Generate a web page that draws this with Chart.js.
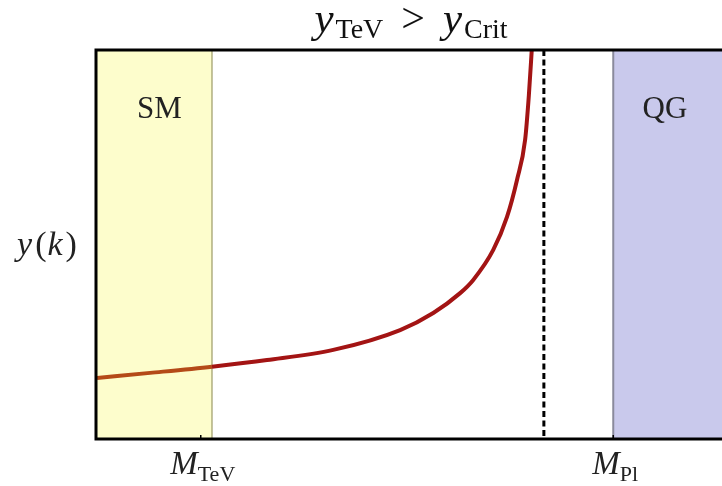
<!DOCTYPE html>
<html>
<head>
<meta charset="utf-8">
<script src="https://cdn.jsdelivr.net/npm/chart.js@4"></script>
<style>
  html, body { margin: 0; padding: 0; background: #ffffff; }
  #wrap { width: 722px; height: 486px; position: relative; }
</style>
</head>
<body>
<div id="wrap"><canvas id="c" width="722" height="486"></canvas></div>
<script>
// Running coupling y(k) against scale k (arbitrary linear units 0..100)
const curveK = [0, 8.5, 18.4, 27.2, 37.8, 48.5, 53.8, 58.1, 60.2, 63.4, 65.6, 67.2, 68.5, 69.1, 69.6];
const curveY = [15.7, 17.0, 18.6, 20.3, 22.9, 28.0, 32.4, 37.5, 40.9, 48.6, 57.1, 66.6, 76.9, 88.4, 101];

// Regions and markers along k
const smRegion = [0, 18.4];      // Standard Model regime
const qgRegion = [82.6, 100];    // quantum gravity regime
const poleK = [71.5];            // where y(k) diverges
const tickK = [16.6, 82.6];
const tickLabels = [['M', 'TeV'], ['M', 'Pl']];
const regionLabels = ['SM', 'QG'];

const SERIF = '"Liberation Serif", "DejaVu Serif", serif';

// lays out a run of pieces {t, size, italic, dy, gap} centred on cx
function mathRun(ctx, pieces, cx, y) {
  const font = p => (p.italic ? 'italic ' : '') + p.size + 'px ' + SERIF;
  let total = 0;
  pieces.forEach(p => { ctx.font = font(p); p.w = ctx.measureText(p.t).width; total += p.w + (p.gap || 0); });
  let x = cx - total / 2;
  pieces.forEach(p => {
    ctx.font = font(p);
    ctx.fillText(p.t, x, y + (p.dy || 0));
    x += p.w + (p.gap || 0);
  });
}

const decor = {
  id: 'decor',
  beforeDatasetsDraw(chart) {
    const { ctx, chartArea: a, scales: { x } } = chart;
    ctx.save();
    // shaded regimes
    const s0 = x.getPixelForValue(smRegion[0]), s1 = x.getPixelForValue(smRegion[1]);
    ctx.fillStyle = '#fdfdcc';
    ctx.fillRect(s0, a.top, s1 - s0, a.bottom - a.top);
    const q0 = x.getPixelForValue(qgRegion[0]), q1 = x.getPixelForValue(qgRegion[1]);
    ctx.fillStyle = '#c9c9ec';
    ctx.fillRect(q0, a.top, q1 - q0 + 2, a.bottom - a.top);
    ctx.strokeStyle = '#9c9a66';
    ctx.lineWidth = 1.2;
    ctx.beginPath(); ctx.moveTo(s1, a.top); ctx.lineTo(s1, a.bottom); ctx.stroke();
    ctx.strokeStyle = '#8a8a9c';
    ctx.lineWidth = 2;
    ctx.beginPath(); ctx.moveTo(q0, a.top); ctx.lineTo(q0, a.bottom); ctx.stroke();
    // pole
    const p = x.getPixelForValue(poleK[0]);
    ctx.strokeStyle = '#000';
    ctx.lineWidth = 3;
    ctx.setLineDash([6, 3.5]);
    ctx.beginPath(); ctx.moveTo(p, a.top); ctx.lineTo(p, a.bottom); ctx.stroke();
    ctx.restore();
  },
  afterDatasetsDraw(chart) {
    const { ctx, chartArea: a, scales: { x } } = chart;
    ctx.save();
    // frame
    ctx.strokeStyle = '#000';
    ctx.lineWidth = 3;
    ctx.beginPath();
    ctx.moveTo(a.right + 2, a.top);
    ctx.lineTo(a.left - 1, a.top);
    ctx.lineTo(a.left - 1, a.bottom);
    ctx.lineTo(a.right + 2, a.bottom);
    ctx.stroke();
    // ticks
    ctx.lineWidth = 1.5;
    tickK.forEach(k => {
      const px = x.getPixelForValue(k);
      ctx.beginPath(); ctx.moveTo(px, a.bottom); ctx.lineTo(px, a.bottom - 4); ctx.stroke();
    });
    ctx.fillStyle = '#222';
    ctx.textBaseline = 'alphabetic';
    ctx.textAlign = 'left';
    tickK.forEach((k, i) => {
      const px = x.getPixelForValue(k);
      mathRun(ctx, [
        { t: tickLabels[i][0], size: 33, italic: true, gap: 0 },
        { t: tickLabels[i][1], size: 22, dy: 7 }
      ], px + 2, 474);
    });
    // region names
    ctx.font = '31px ' + SERIF;
    ctx.textAlign = 'center';
    const smMid = (x.getPixelForValue(smRegion[0]) + x.getPixelForValue(smRegion[1])) / 2;
    ctx.fillText(regionLabels[0], smMid + 5, 118);
    ctx.fillText(regionLabels[1], 665, 118);
    ctx.textAlign = 'left';
    // axis name
    mathRun(ctx, [
      { t: 'y', size: 34, italic: true, gap: 3 },
      { t: '(', size: 34, gap: 1 },
      { t: 'k', size: 34, italic: true, gap: 3 },
      { t: ')', size: 34 }
    ], 47, 255);
    // title
    ctx.fillStyle = '#111';
    mathRun(ctx, [
      { t: 'y', size: 43, italic: true, gap: 2 },
      { t: 'TeV', size: 28, dy: 6, gap: 18 },
      { t: '>', size: 42, gap: 18 },
      { t: 'y', size: 43, italic: true, gap: 2 },
      { t: 'Crit', size: 28, dy: 6 }
    ], 411, 32);
    ctx.restore();
  }
};

new Chart(document.getElementById('c'), {
  type: 'line',
  data: {
    datasets: [{
      data: curveK.map((k, i) => ({ x: k, y: curveY[i] })),
      borderColor: '#a31414',
      borderWidth: 4,
      pointRadius: 0,
      cubicInterpolationMode: 'monotone',
      fill: false,
      segment: {
        borderColor: c => (c.p0.parsed.x < smRegion[1] - 0.01 ? '#b44a18' : '#a31414')
      }
    }]
  },
  options: {
    responsive: false,
    animation: false,
    layout: { padding: { left: 97, top: 50, right: 0, bottom: 47 } },
    plugins: { legend: { display: false }, tooltip: { enabled: false } },
    scales: {
      x: { type: 'linear', min: 0, max: 100, display: false },
      y: { type: 'linear', min: 0, max: 100, display: false }
    }
  },
  plugins: [decor]
});
</script>
</body>
</html>
